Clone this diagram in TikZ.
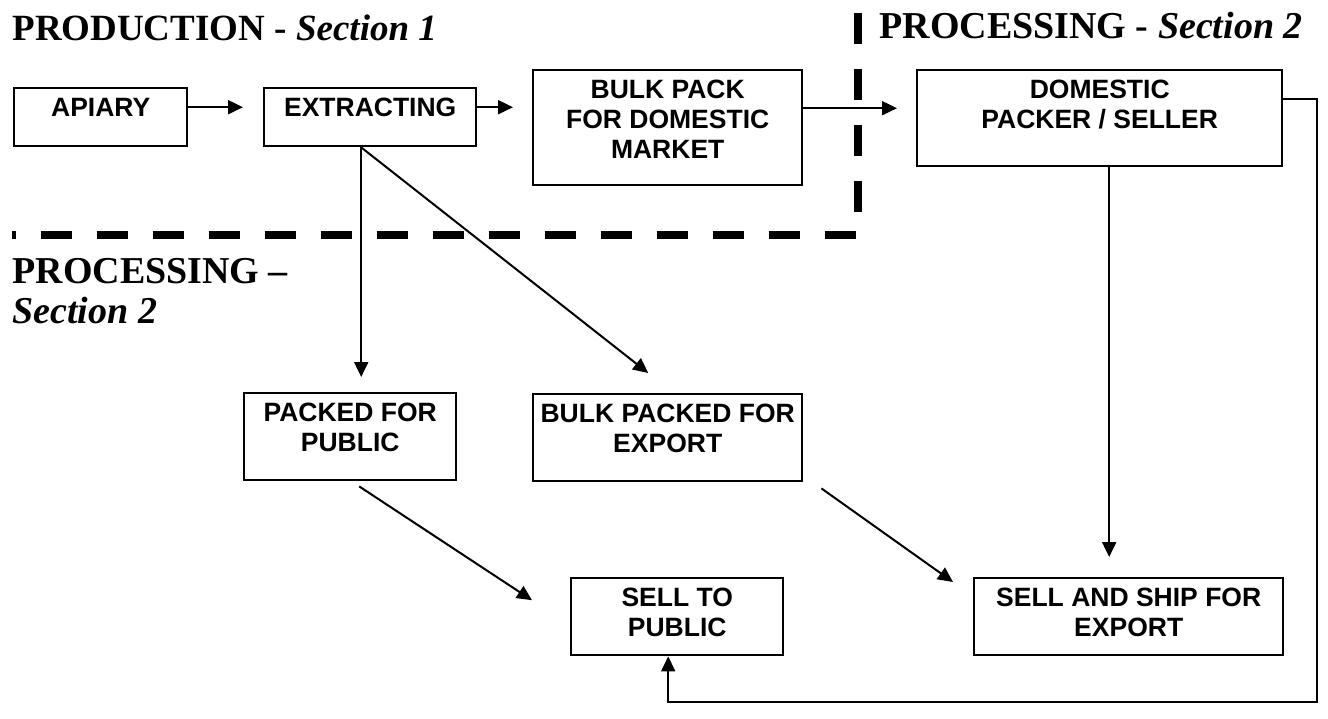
\documentclass[tikz,border=0pt]{standalone}
\usepackage{fontspec}
\setmainfont{Liberation Serif}
\newfontfamily\boxfont{Liberation Sans}
\usepackage{tikz}
\usetikzlibrary{arrows.meta, positioning}

\begin{document}
\begin{tikzpicture}[x=0.5pt, y=-0.5pt]
        % Setup the styles for the boxes, headings and arrows
        \tikzset{box style/.style={draw,
                                   line width=1.2pt,
                                   anchor=north west,
                                   inner sep=0pt,
                                   align=center,
                                   font=\boxfont\bfseries\fontsize{13.25}{15}\selectfont},
                 head style/.style={anchor=base west,
                                    inner sep=0pt,
                                    align=left,
                                    font=\bfseries\fontsize{19}{20}\selectfont},
                 arrow style/.style={line width=1pt,
                                     -{Triangle[length=7.5pt,width=7pt]}}}
        \useasboundingbox (0,0) rectangle (1328,718);

        % Draw the headings
        \node[head style, font=\bfseries\fontsize{18.5}{20}\selectfont] at (12,40) (prodhead) {PRODUCTION - \textit{Section 1}};
        \node[head style] at (879,38) (prochead) {PROCESSING - \textit{Section 2}};
        \node[head style] at (12,323) (prochead2) {PROCESSING --\\\textit{Section 2}};

        % Draw the boxes
        \node[box style, minimum width=86.5pt, text height=14pt, text depth=15pt] at (13,87) (apiary) {APIARY};
        \node[box style, minimum width=106pt, text height=14pt, text depth=15pt] at (263,87) (extract) {EXTRACTING};
        \node[box style, minimum width=134.5pt, text height=44pt, text depth=13.5pt] at (532,69) (bulkdom) {BULK PACK\\FOR DOMESTIC\\MARKET};
        \node[box style, minimum width=182.5pt, text height=29pt, text depth=19pt] at (916,69) (dompack) {DOMESTIC\\PACKER / SELLER};
        \node[box style, minimum width=106pt, text height=29pt, text depth=14.5pt] at (243,392) (packpub) {PACKED FOR\\PUBLIC};
        \node[box style, minimum width=134.5pt, text height=29pt, text depth=14.5pt] at (532,393) (bulkexp) {BULK PACKED FOR\\EXPORT};
        \node[box style, minimum width=106pt, text height=29pt, text depth=9.5pt] at (570,577) (sellpub) {SELL TO\\PUBLIC};
        \node[box style, minimum width=154.5pt, text height=29pt, text depth=9.5pt] at (973,577) (sellexp) {SELL AND SHIP FOR\\EXPORT};
        \coordinate (loop) at (1317,702);

        % Draw the section border
        \draw[line width=4pt, dash pattern=on 15.5pt off 12.5pt]
            (858,13) -- (858,235) -- (12,235);

        % Connect the boxes with arrows
        \draw[arrow style, shorten >=10pt] ([yshift=5pt]apiary.east) -- ([yshift=5pt]extract.west);
        \draw[arrow style, shorten >=9.5pt] ([yshift=5pt]extract.east) -- ([yshift=5pt]extract.east -| bulkdom.west);
        \draw[arrow style, shorten >=9.5pt] ([yshift=9.75pt]bulkdom.east) -- ([yshift=9.75pt]bulkdom.east -| dompack.west);
        \draw[arrow style, shorten >=7.5pt] ([xshift=-4.5pt]extract.south) -- ([xshift=-4.5pt]extract.south |- packpub.north);
        \draw[arrow style] ([xshift=-4.5pt]extract.south) -- ([xshift=-9.75pt,yshift=10pt]bulkexp.north);
        \draw[arrow style] ([xshift=4.5pt,yshift=-2.5pt]packpub.south) -- ([xshift=-19pt,yshift=8.25pt]sellpub.west);
        \draw[arrow style] ([xshift=9pt,yshift=-3pt]bulkexp.south east) -- ([xshift=-10pt,yshift=-2.5pt]sellexp.north west);
        \draw[arrow style, shorten >=10pt] ([xshift=4.75pt]dompack.south) -- ([xshift=4.75pt]dompack.south |- sellexp.north);
        \draw[arrow style] ([yshift=9.5pt]dompack.east) -| (loop) -| ([xshift=-4.5pt]sellpub.south);
\end{tikzpicture}
\end{document}
